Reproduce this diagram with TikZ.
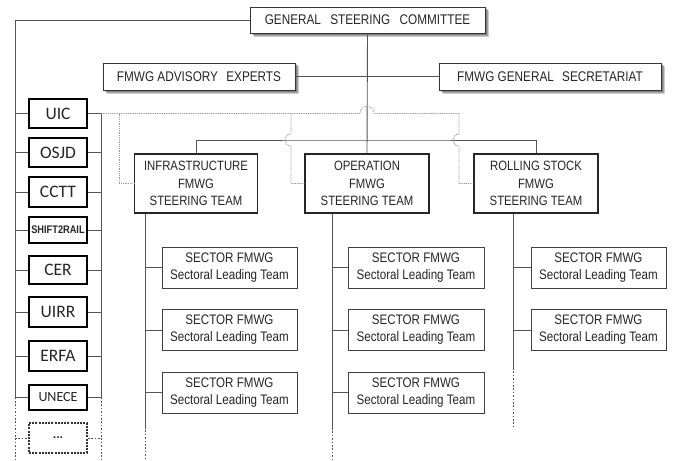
\documentclass[tikz,border=0pt]{standalone}
\usepackage{fontspec}
\setmainfont{Liberation Sans}
\newfontfamily\narfont[FakeStretch=0.84]{Liberation Sans}
\newfontfamily\orgfont{Carlito}
\usetikzlibrary{backgrounds}
\definecolor{lineg}{HTML}{555555}
\definecolor{dotg}{HTML}{9A9A9A}
\definecolor{txt}{HTML}{262626}
\tikzset{
  conn/.style={draw=lineg, line width=0.9pt},
  dotbus/.style={draw=lineg, line width=0.9pt, dash pattern=on 1.6pt off 1.8pt},
  dotc/.style={draw=dotg, line width=0.8pt, dash pattern=on 1pt off 0.8pt},
  topbox/.style={draw=black!80, line width=0.9pt, fill=white, inner sep=0pt, text=txt,
     font=\narfont\fontsize{14}{16}\selectfont},
  steerbox/.style={draw=black!85, line width=1.3pt, fill=white, inner sep=0pt, text=txt,
     minimum height=59pt, align=center, font=\narfont\fontsize{13.5}{17.7}\selectfont},
  secbox/.style={draw=black!75, line width=0.9pt, fill=white, inner sep=0pt, text=txt,
     minimum height=41pt, align=center, font=\narfont\fontsize{13.8}{17}\selectfont},
  orgbox/.style={draw=black, line width=2pt, fill=white, inner sep=0pt, text=txt,
     minimum width=58pt, font=\orgfont\fontsize{17.5}{18}\selectfont},
  shadowfill/.style={fill=black, opacity=0.2},
}
\begin{document}
\begin{tikzpicture}[x=1pt,y=-1pt]
\useasboundingbox (0,0) rectangle (673,461);
% top boxes
\node[topbox, minimum width=235pt, minimum height=26pt] (gsc) at (367.5,20) {GENERAL\hspace{6pt} STEERING\hspace{6pt} COMMITTEE};
\node[topbox, minimum width=192pt, minimum height=27pt] (adv) at (199,76.5) {FMWG ADVISORY\hspace{5pt} EXPERTS};
\node[topbox, minimum width=222pt, minimum height=27pt] (sec) at (550,76.5) {FMWG GENERAL\hspace{5pt} SECRETARIAT};
% soft shadows of the top boxes
\begin{scope}[on background layer]
\foreach \b in {gsc,adv,sec}{
  \foreach \d in {1.5,2.5,3.5}{
    \fill[shadowfill] ([xshift=\d pt+1pt,yshift=-\d pt]\b.south west) rectangle ([xshift=\d pt,yshift=-\d pt]\b.north east);
  }
}
\end{scope}
% steering teams
\node[steerbox, minimum width=123pt] (infra) at (196,183.5) {INFRASTRUCTURE\\FMWG\\STEERING TEAM};
\node[steerbox, minimum width=124pt] (oper) at (367,183.5) {OPERATION\\FMWG\\STEERING TEAM};
\node[steerbox, minimum width=124pt] (roll) at (536,183.5) {ROLLING STOCK\\FMWG\\STEERING TEAM};
% sector boxes
\node[secbox, minimum width=135pt] (i1) at (229.5,267.5) {SECTOR FMWG\\Sectoral Leading Team};
\node[secbox, minimum width=135pt] (i2) at (229.5,330) {SECTOR FMWG\\Sectoral Leading Team};
\node[secbox, minimum width=135pt] (i3) at (229.5,392.5) {SECTOR FMWG\\Sectoral Leading Team};
\node[secbox, minimum width=136pt] (o1) at (416,267.5) {SECTOR FMWG\\Sectoral Leading Team};
\node[secbox, minimum width=136pt] (o2) at (416,330) {SECTOR FMWG\\Sectoral Leading Team};
\node[secbox, minimum width=136pt] (o3) at (416,392.5) {SECTOR FMWG\\Sectoral Leading Team};
\node[secbox, minimum width=135pt] (r1) at (598.5,267.5) {SECTOR FMWG\\Sectoral Leading Team};
\node[secbox, minimum width=135pt] (r2) at (598.5,330) {SECTOR FMWG\\Sectoral Leading Team};
% organisations
\node[orgbox, minimum height=29pt] (uic) at (58,113.5) {UIC};
\node[orgbox, minimum height=29pt] (osjd) at (58,152.5) {OSJD};
\node[orgbox, minimum height=30pt] (cctt) at (58,192) {CCTT};
\node[orgbox, minimum height=26pt, font=\narfont\bfseries\fontsize{11}{12}\selectfont] (s2r) at (58,230) {SHIFT2RAIL};
\node[orgbox, minimum height=28pt] (cer) at (58,270) {CER};
\node[orgbox, minimum height=30pt] (uirr) at (58,312) {UIRR};
\node[orgbox, minimum height=30pt] (erfa) at (58,356) {ERFA};
\node[orgbox, minimum height=25pt, font=\orgfont\fontsize{14}{15}\selectfont] (unece) at (58,397.5) {UNECE};
\node[orgbox, minimum height=30pt, draw=black!80, dash pattern=on 2pt off 1.2pt, font=\orgfont\bfseries\fontsize{13}{14}\selectfont] (more) at (58,438) {...};
% coordinates
\coordinate (ltop) at (15,20);
\coordinate (lmid) at (15,397.5);
\coordinate (lbot) at (15,461);
\coordinate (rtop) at (101,113.5);
\coordinate (rmid) at (101,397.5);
\coordinate (rbot) at (101,461);
\coordinate (hj) at (367,140);
\coordinate (ia) at (145,427);
\coordinate (ib) at (145,461);
\coordinate (oa) at (332,428);
\coordinate (ob) at (332,460);
\coordinate (ra) at (513,368);
\coordinate (rb) at (513,427);
% top connectors
\draw[conn] (gsc.west) -- (ltop) -- (lmid);
\draw[dotbus] (lmid) -- (lbot);
\draw[conn] (rtop) -- (rmid);
\draw[dotbus] (rmid) -- (rbot);
\draw[conn] (gsc.south) -- (oper.north);
\draw[conn] (adv.east) -- (sec.west);
\draw[conn] (infra.north) |- (hj) -| (roll.north);
% org stubs
\foreach \o in {uic,osjd,cctt,s2r,cer,uirr,erfa,unece}{
  \draw[conn] (ltop |- \o.west) -- (\o.west);
  \draw[conn] (\o.east) -- (rtop |- \o.east);
}
\draw[dotbus] (lmid |- more.west) -- (more.west);
\draw[dotbus] (more.east) -- (rmid |- more.east);
% dotted links
\draw[dotc] (rtop) -- (360,113.5) .. controls (360,104) and (374,104) .. (374,113.5) -- (459,113.5) -- (459,134) .. controls (451,134) and (451,146) .. (459,146) |- (roll.west);
\draw[dotc] (119,113.5) |- (infra.west);
\draw[dotc] (291,113.5) -- (291,134) .. controls (283,134) and (283,146) .. (291,146) |- (oper.west);
% sector columns
\draw[conn] (infra.south -| ia) -- (ia);
\draw[dotbus] (ia) -- (ib);
\draw[conn] (oper.south -| oa) -- (oa);
\draw[dotbus] (oa) -- (ob);
\draw[conn] (roll.south -| ra) -- (ra);
\draw[dotbus] (ra) -- (rb);
\foreach \s in {i1,i2,i3}{\draw[conn] (ia |- \s.west) -- (\s.west);}
\foreach \s in {o1,o2,o3}{\draw[conn] (oa |- \s.west) -- (\s.west);}
\foreach \s in {r1,r2}{\draw[conn] (ra |- \s.west) -- (\s.west);}
\end{tikzpicture}
\end{document}
